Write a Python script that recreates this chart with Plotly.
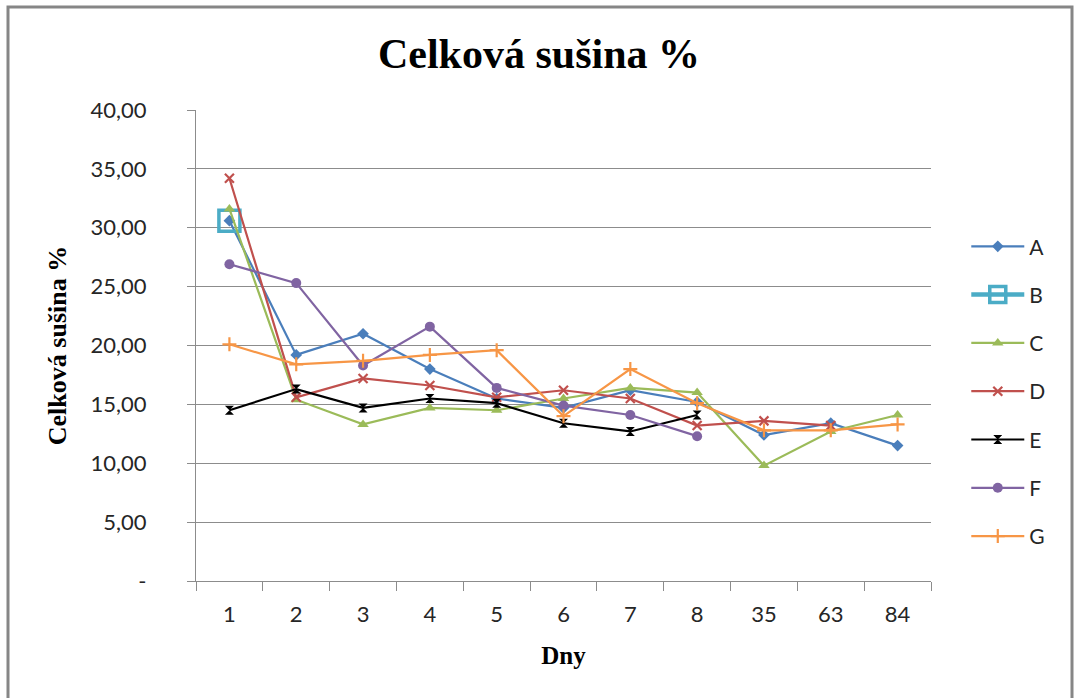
import plotly.graph_objects as go

# Sampling days (categorical x axis)
days = ["1", "2", "3", "4", "5", "6", "7", "8", "35", "63", "84"]

# Total dry matter (%) per variant
series_a = [30.6, 19.2, 21.0, 18.0, 15.5, 14.7, 16.2, 15.2, 12.4, 13.4, 11.5]
series_b = [30.6, None, None, None, None, None, None, None, None, None, None]
series_c = [31.6, 15.4, 13.3, 14.7, 14.5, 15.5, 16.4, 16.0, 9.8, 12.7, 14.1]
series_d = [34.2, 15.6, 17.2, 16.6, 15.6, 16.2, 15.5, 13.2, 13.6, 13.2, None]
series_e = [14.5, 16.3, 14.7, 15.5, 15.1, 13.4, 12.7, 14.1, None, None, None]
series_f = [26.9, 25.3, 18.3, 21.6, 16.4, 14.9, 14.1, 12.3, None, None, None]
series_g = [20.1, 18.4, 18.7, 19.2, 19.6, 14.0, 18.0, 15.1, 12.8, 12.8, 13.3]

y_ticks = [0, 5, 10, 15, 20, 25, 30, 35, 40]
y_tick_text = ["-", "5,00", "10,00", "15,00", "20,00", "25,00", "30,00", "35,00", "40,00"]

styles = [
    ("A", series_a, "#4A7EBB", dict(symbol="diamond", size=9), 2.2),
    ("B", series_b, "#4BACC6", dict(symbol="square-open", size=21, line=dict(width=3.5)), 4.5),
    ("C", series_c, "#9BBB59", dict(symbol="triangle-up", size=10), 2.2),
    ("D", series_d, "#C0504D", dict(symbol="x-thin-open", size=9, line=dict(width=2.2)), 2.2),
    ("E", series_e, "#000000", dict(symbol="hourglass", size=9), 2.2),
    ("F", series_f, "#8064A2", dict(symbol="circle", size=10), 2.2),
    ("G", series_g, "#F79646", dict(symbol="cross-thin-open", size=10, line=dict(width=2.2)), 2.2),
]

fig = go.Figure()
for name, vals, color, marker, lw in styles:
    m = dict(marker)
    m["color"] = color
    if "line" in m:
        m["line"] = dict(m["line"], color=color)
    fig.add_trace(go.Scatter(
        x=days, y=vals, name=name, mode="lines+markers",
        line=dict(color=color, width=lw),
        marker=m, connectgaps=False, legendgroup=name,
    ))

grid = "#8C8C8C"
tick_font = dict(family="Lato, 'Open Sans', sans-serif", size=22, color="#262626")
serif_bold = "Liberation Serif, 'Times New Roman', serif"

fig.update_layout(
    width=1076, height=698,
    margin=dict(l=196, r=145, t=110, b=117),
    paper_bgcolor="white", plot_bgcolor="white",
    title=dict(text="<b>Celková sušina %</b>", x=539 / 1076, xanchor="center",
               y=1 - 53 / 698, yanchor="middle",
               font=dict(family=serif_bold, size=42, color="black")),
    xaxis=dict(
        type="category", range=[-0.5, 10.5], tickson="boundaries",
        ticks="outside", ticklen=9, tickcolor=grid, tickwidth=1.3,
        showline=True, linecolor=grid, linewidth=1.3, showgrid=False,
        tickfont=tick_font, ticklabelstandoff=13,
        title=dict(text="<b>Dny</b>", standoff=20,
                   font=dict(family=serif_bold, size=25, color="black")),
    ),
    yaxis=dict(
        range=[0, 40], tickvals=y_ticks, ticktext=y_tick_text,
        ticks="outside", ticklen=8, tickcolor=grid, tickwidth=1.3,
        showline=True, linecolor=grid, linewidth=1.3,
        showgrid=True, gridcolor=grid, gridwidth=1.3, zeroline=False,
        tickfont=tick_font, ticklabelstandoff=36,
        title=dict(text="<b>Celková sušina %</b>", standoff=16,
                   font=dict(family=serif_bold, size=26, color="black")),
    ),
    legend=dict(
        x=1.048, xanchor="left", y=0.402, yanchor="middle",
        font=dict(family="Lato, 'Open Sans', sans-serif", size=21, color="#262626"),
        tracegroupgap=18, itemwidth=53, bgcolor="rgba(0,0,0,0)",
    ),
    showlegend=True,
)

# Chart frame
fig.add_shape(type="rect", xref="paper", yref="paper",
              x0=(8 - 196) / 735, x1=(1072 - 196) / 735,
              y0=(581 - 710) / 471, y1=(581 - 7) / 471,
              line=dict(color="#868686", width=3), layer="below")

fig.write_html("out.html")
